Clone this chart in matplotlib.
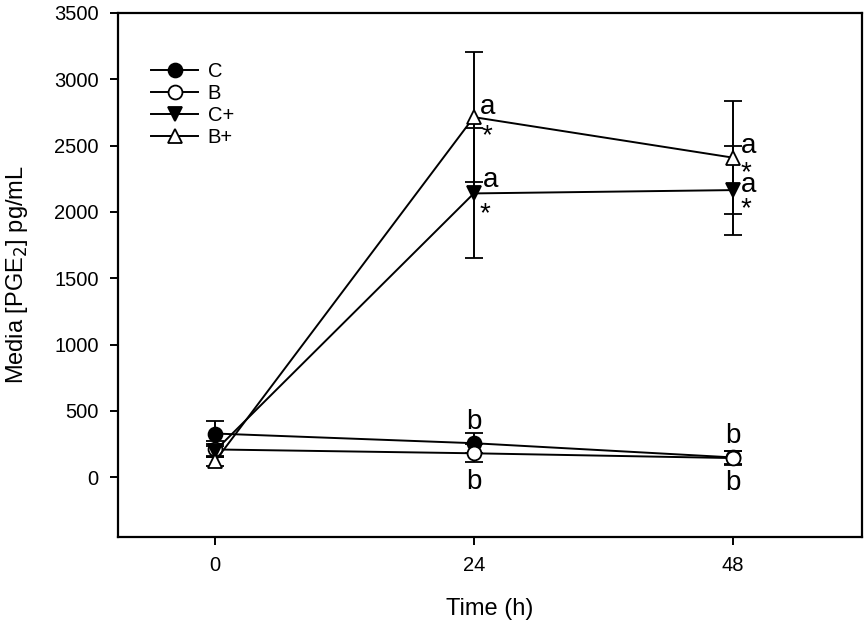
import matplotlib
matplotlib.use("Agg")
import matplotlib.pyplot as plt
from matplotlib.lines import Line2D

plt.rcParams['font.family'] = ['Liberation Sans', 'DejaVu Sans']

times = [0, 24, 48]
labels = ["C", "B", "C+", "B+"]
c_mean = [330, 257, 150]
c_err = [92, 75, 52]
b_mean = [210, 181, 145]
b_err = [60, 68, 50]
cp_mean = [200, 2140, 2165]
cp_err = [50, 490, 335]
bp_mean = [121, 2715, 2410]
bp_err = [38, 490, 425]

xticks = [0, 24, 48]
yticks = [0, 500, 1000, 1500, 2000, 2500, 3000, 3500]

fig = plt.figure(figsize=(8.66, 6.24), dpi=100)
ax = fig.add_axes([118/866, 1-537/624, (862-118)/866, (537-13)/624])

series = [
    (c_mean, c_err, 'o', 'black'),
    (b_mean, b_err, 'o', 'white'),
    (cp_mean, cp_err, 'v', 'black'),
    (bp_mean, bp_err, '^', 'white'),
]
handles = []
for (m, e, mk, fc), lab in zip(series, labels):
    ax.errorbar(times, m, yerr=e, color='black', lw=1.4, elinewidth=1.4,
                capsize=6.5, capthick=1.4, marker=mk, markersize=10,
                markerfacecolor=fc, markeredgecolor='black', markeredgewidth=1.3)
    handles.append(Line2D([], [], color='black', lw=1.4, marker=mk, markersize=10,
                          markerfacecolor=fc, markeredgecolor='black',
                          markeredgewidth=1.3, label=lab))

def note(txt, x, y, dx, dy, ha='left', size=20):
    ax.annotate(txt, (x, y), xytext=(dx*0.72, dy*0.72), textcoords='offset points',
                ha=ha, va='baseline', fontsize=size)

# letters for B+ and C+
note('a', times[1], bp_mean[1], 6, 3)
note('*', times[1], bp_mean[1], 8, -26.4)
note('a', times[1], cp_mean[1], 9, 6)
note('*', times[1], cp_mean[1], 6, -27.4)
note('a', times[2], bp_mean[2], 8, 5)
note('*', times[2], bp_mean[2], 8, -22.4)
note('a', times[2], cp_mean[2], 8, -2)
note('*', times[2], cp_mean[2], 8, -26.4)
# letters for C and B
note('b', times[1], c_mean[1], 0, 14, ha='center')
note('b', times[1], b_mean[1], 0, -36, ha='center')
note('b', times[2], c_mean[2], 0, 14, ha='center')
note('b', times[2], b_mean[2], 0, -32, ha='center')

ax.set_xlim(-9, 60)
ax.set_ylim(-450, 3500)
ax.set_xticks(xticks)
ax.set_yticks(yticks)
ax.tick_params(direction='out', length=6, width=1.4, labelsize=14.5, pad=8,
               top=False, right=False)
for s in ax.spines.values():
    s.set_linewidth(1.6)

ax.set_xlabel('Time (h)', fontsize=17, labelpad=16)
ax.set_ylabel('Media [PGE$_2$] pg/mL', fontsize=17, labelpad=17)

leg = ax.legend(handles=handles, loc='upper left', bbox_to_anchor=(0.034, 0.922),
                frameon=False, fontsize=14.5, handlelength=2.3, handletextpad=0.5,
                labelspacing=0.15, borderaxespad=0)

fig.savefig('out.png', dpi=100)
